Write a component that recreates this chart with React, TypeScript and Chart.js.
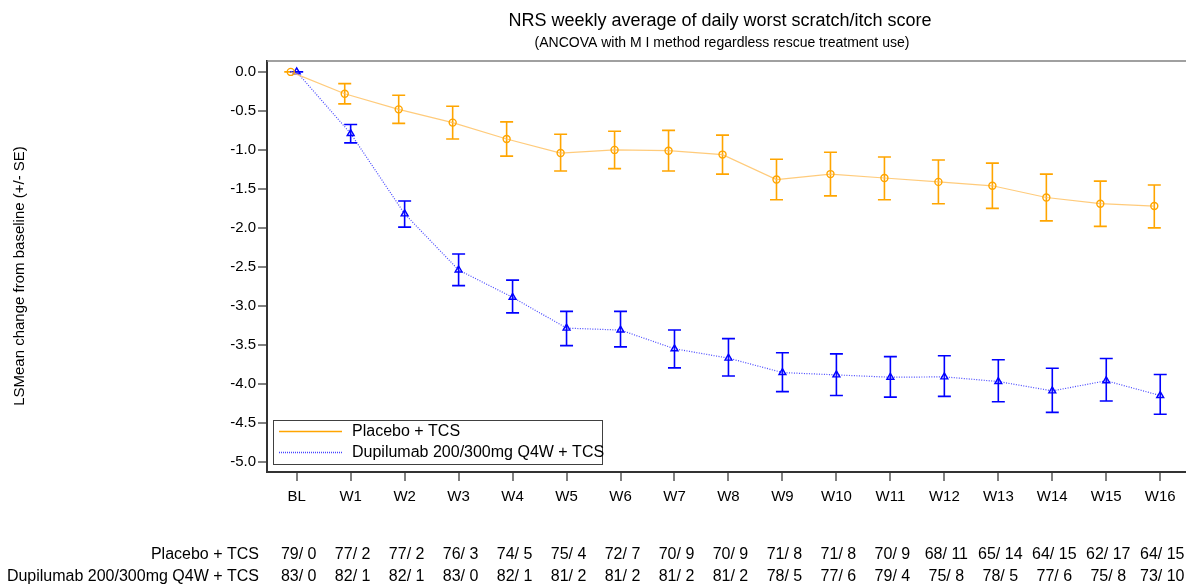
import React, { useEffect, useRef } from 'react';
import { Chart, registerables } from 'chart.js';

Chart.register(...registerables);

const weekLabels = ['BL', 'W1', 'W2', 'W3', 'W4', 'W5', 'W6', 'W7', 'W8', 'W9', 'W10', 'W11', 'W12', 'W13', 'W14', 'W15', 'W16'];

const placeboMean = [0, -0.28, -0.48, -0.65, -0.86, -1.04, -1.0, -1.01, -1.06, -1.38, -1.31, -1.36, -1.41, -1.46, -1.61, -1.69, -1.72];
const placeboLow = [0, -0.41, -0.66, -0.86, -1.08, -1.27, -1.24, -1.27, -1.31, -1.64, -1.59, -1.64, -1.69, -1.75, -1.91, -1.98, -2.0];
const placeboHigh = [0, -0.15, -0.3, -0.44, -0.64, -0.8, -0.76, -0.75, -0.81, -1.12, -1.03, -1.09, -1.13, -1.17, -1.31, -1.4, -1.45];

const dupiMean = [0, -0.79, -1.82, -2.54, -2.89, -3.285, -3.31, -3.55, -3.67, -3.855, -3.885, -3.915, -3.91, -3.97, -4.09, -3.96, -4.15];
const dupiLow = [0, -0.91, -1.99, -2.74, -3.09, -3.51, -3.525, -3.795, -3.9, -4.1, -4.15, -4.17, -4.16, -4.23, -4.365, -4.22, -4.39];
const dupiHigh = [0, -0.675, -1.655, -2.335, -2.67, -3.07, -3.07, -3.31, -3.42, -3.6, -3.615, -3.65, -3.64, -3.69, -3.8, -3.675, -3.88];

const placeboN = ['79/ 0', '77/ 2', '77/ 2', '76/ 3', '74/ 5', '75/ 4', '72/ 7', '70/ 9', '70/ 9', '71/ 8', '71/ 8', '70/ 9', '68/ 11', '65/ 14', '64/ 15', '62/ 17', '64/ 15'];
const dupiN = ['83/ 0', '82/ 1', '82/ 1', '83/ 0', '82/ 1', '81/ 2', '81/ 2', '81/ 2', '81/ 2', '78/ 5', '77/ 6', '79/ 4', '75/ 8', '78/ 5', '77/ 6', '75/ 8', '73/ 10'];

const yTickValues = [0, -0.5, -1.0, -1.5, -2.0, -2.5, -3.0, -3.5, -4.0, -4.5, -5.0];

const seriesNames = ['Placebo + TCS', 'Dupilumab 200/300mg Q4W + TCS'];
const titleText = 'NRS weekly average of daily worst scratch/itch score';
const subtitleText = '(ANCOVA with M I method regardless rescue treatment use)';
const yTitleText = 'LSMean change from baseline (+/- SE)';

const FONT = '"Liberation Sans", Arial, Helvetica, sans-serif';
const PLACEBO_SHIFT = 0.11;
const ORANGE = '#FFA500';
const BLUE = '#0000FF';

export default function App() {
  const ref = useRef<HTMLCanvasElement>(null);

  useEffect(() => {
    const canvas = ref.current;
    if (!canvas) return;

    const errorSets = [
      { low: placeboLow, high: placeboHigh, shift: -PLACEBO_SHIFT, color: ORANGE },
      { low: dupiLow, high: dupiHigh, shift: 0, color: BLUE },
    ];

    const decorPlugin = {
      id: 'decor',
      beforeDatasetsDraw(chart: any) {
        const ctx = chart.ctx;
        const xs = chart.scales.x;
        const ys = chart.scales.y;
        ctx.save();
        errorSets.forEach((s) => {
          ctx.strokeStyle = s.color;
          ctx.lineWidth = 1.6;
          s.low.forEach((lo: number, i: number) => {
            const x = xs.getPixelForValue(i + s.shift);
            const yl = ys.getPixelForValue(lo);
            const yh = ys.getPixelForValue(s.high[i]);
            ctx.beginPath();
            ctx.moveTo(x, yl);
            ctx.lineTo(x, yh);
            ctx.moveTo(x - 6.5, yl);
            ctx.lineTo(x + 6.5, yl);
            ctx.moveTo(x - 6.5, yh);
            ctx.lineTo(x + 6.5, yh);
            ctx.stroke();
          });
        });
        ctx.restore();
      },
      afterDraw(chart: any) {
        const ctx = chart.ctx;
        const area = chart.chartArea;
        const xs = chart.scales.x;
        ctx.save();
        // top frame line
        ctx.strokeStyle = '#808080';
        ctx.lineWidth = 1.5;
        ctx.beginPath();
        ctx.moveTo(area.left, area.top);
        ctx.lineTo(area.right + 10, area.top);
        ctx.stroke();

        // titles
        ctx.fillStyle = '#000';
        ctx.textAlign = 'center';
        ctx.textBaseline = 'middle';
        ctx.font = `18px ${FONT}`;
        ctx.fillText(titleText, 720, 21);
        ctx.font = `14px ${FONT}`;
        ctx.fillText(subtitleText, 722, 43);

        // y title
        ctx.save();
        ctx.translate(20, 276);
        ctx.rotate(-Math.PI / 2);
        ctx.font = `15px ${FONT}`;
        ctx.fillText(yTitleText, 0, 0);
        ctx.restore();

        // legend
        ctx.fillStyle = '#fff';
        ctx.fillRect(273, 420, 329, 44);
        ctx.strokeStyle = '#404040';
        ctx.lineWidth = 1;
        ctx.strokeRect(273.5, 420.5, 329, 44);
        ctx.strokeStyle = ORANGE;
        ctx.lineWidth = 1.5;
        ctx.beginPath();
        ctx.moveTo(279, 431.5);
        ctx.lineTo(342, 431.5);
        ctx.stroke();
        ctx.strokeStyle = '#4444FF';
        ctx.setLineDash([1, 1]);
        ctx.beginPath();
        ctx.moveTo(279, 452.5);
        ctx.lineTo(342, 452.5);
        ctx.stroke();
        ctx.setLineDash([]);
        ctx.fillStyle = '#000';
        ctx.textAlign = 'left';
        ctx.font = `16px ${FONT}`;
        ctx.fillText(seriesNames[0], 352, 432);
        ctx.fillText(seriesNames[1], 352, 453);

        // table below
        ctx.textAlign = 'right';
        ctx.fillText(seriesNames[0], 259, 555);
        ctx.fillText(seriesNames[1], 259, 577);
        ctx.textAlign = 'center';
        placeboN.forEach((t, i) => {
          ctx.fillText(t, xs.getPixelForValue(i) + 2, 555);
        });
        dupiN.forEach((t, i) => {
          ctx.fillText(t, xs.getPixelForValue(i) + 2, 577);
        });
        ctx.restore();
      },
    };

    const chart = new Chart(canvas, {
      type: 'line',
      data: {
        datasets: [
          {
            label: seriesNames[0],
            data: placeboMean.map((y, i) => ({ x: i - PLACEBO_SHIFT, y })),
            borderColor: 'rgba(255,190,90,0.8)',
            borderWidth: 1.2,
            pointStyle: 'circle',
            pointRadius: 3.5,
            pointBorderColor: ORANGE,
            pointBackgroundColor: 'rgba(0,0,0,0)',
            pointBorderWidth: 1.4,
            fill: false,
            tension: 0,
          },
          {
            label: seriesNames[1],
            data: dupiMean.map((y, i) => ({ x: i, y })),
            borderColor: 'rgba(40,40,255,0.85)',
            borderDash: [1, 1.5],
            borderWidth: 1.2,
            pointStyle: 'triangle',
            pointRadius: 4,
            pointBorderColor: BLUE,
            pointBackgroundColor: 'rgba(0,0,0,0)',
            pointBorderWidth: 1.4,
            fill: false,
            tension: 0,
          },
        ],
      },
      options: {
        animation: false,
        responsive: false,
        maintainAspectRatio: false,
        layout: { padding: { top: 61, bottom: 76, left: 0, right: 0 } },
        plugins: {
          legend: { display: false },
          title: { display: false },
          tooltip: { enabled: false },
        },
        scales: {
          x: {
            type: 'linear',
            min: -0.55,
            max: 16.47,
            afterBuildTicks: (s: any) => {
              s.ticks = weekLabels.map((_, i) => ({ value: i }));
            },
            afterFit: (s: any) => {
              s.height = 40;
            },
            ticks: {
              autoSkip: false,
              maxRotation: 0,
              padding: 7,
              color: '#000',
              font: { family: FONT, size: 15 },
              callback: (v: any) => weekLabels[Math.round(Number(v))] ?? '',
            },
            grid: { drawOnChartArea: false, drawTicks: true, tickLength: 9, color: '#808080', lineWidth: 2 },
            border: { display: true, color: '#333', width: 2 },
          },
          y: {
            type: 'linear',
            min: -5.13,
            max: 0.14,
            afterBuildTicks: (s: any) => {
              s.ticks = yTickValues.map((v) => ({ value: v }));
            },
            afterFit: (s: any) => {
              s.width = 267;
            },
            ticks: {
              padding: 2,
              color: '#000',
              font: { family: FONT, size: 15 },
              callback: (v: any) => Number(v).toFixed(1),
            },
            grid: { drawOnChartArea: false, drawTicks: true, tickLength: 9, color: '#808080', lineWidth: 2 },
            border: { display: true, color: '#333', width: 2 },
          },
        },
      } as any,
      plugins: [decorPlugin],
    });

    return () => chart.destroy();
  }, []);

  return (
    <div style={{ position: 'absolute', left: 0, top: 0, width: 1186, height: 588, background: '#fff', overflow: 'hidden' }}>
      <canvas ref={ref} width={1191} height={588} style={{ display: 'block' }} />
    </div>
  );
}
